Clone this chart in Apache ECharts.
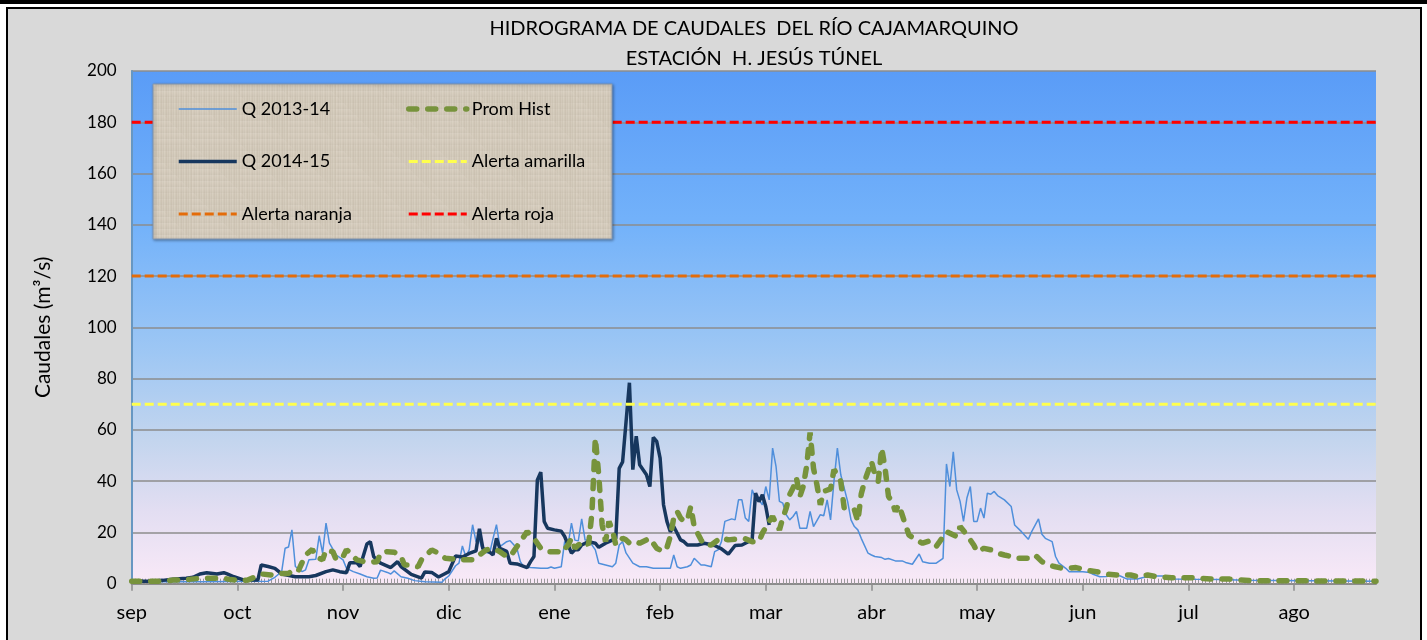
<!DOCTYPE html>
<html>
<head>
<meta charset="utf-8">
<title>Hidrograma de caudales - Río Cajamarquino</title>
<script src="https://cdn.jsdelivr.net/npm/echarts@6/dist/echarts.min.js"></script>
<style>
  html, body { margin: 0; padding: 0; background: #fff; }
  #chart { width: 1427px; height: 640px; }
</style>
</head>
<body>
<div id="chart"></div>
<script>
// month labels every 31 days starting at 1 sep
const months = ['sep', 'oct', 'nov', 'dic', 'ene', 'feb', 'mar', 'abr', 'may', 'jun', 'jul', 'ago'];

// [day since 1 sep, caudal m3/s]
const q1314 = [
  [0, 0.8], [20, 0.8], [30, 0.9], [40, 1.0], [42, 2.5], [44, 4.7], [45, 13.8], [46, 14.3], [47, 21.0],
  [48, 6.7], [50, 4.7], [51, 5.4], [52, 9.3], [54, 9.5], [55, 18.7], [56, 11.9], [57, 23.6], [58, 15.8],
  [60, 11.2], [62, 9.3], [63, 6.0], [65, 4.7], [67, 3.8], [69, 2.7], [71, 2.1], [72, 2.2], [73, 5.3],
  [75, 4.4], [76, 3.8], [77, 5.0], [79, 2.7], [81, 2.1], [83, 1.2], [86, 0.8], [91, 0.6], [92, 2.0],
  [93, 3.0], [95, 7.0], [96, 8.0], [97, 14.7], [98, 10.6], [99, 13.2], [100, 23.0], [101, 16.4], [102, 17.0],
  [103, 12.5], [105, 11.9], [106, 17.7], [107, 23.0], [108, 14.5], [110, 16.4], [111, 16.8], [113, 13.8],
  [114, 8.6], [115, 6.6], [117, 6.3], [120, 6.0], [122, 6.0], [123, 6.5], [124, 6.0], [126, 6.6], [127, 16.4],
  [128, 15.1], [129, 23.6], [130, 17.0], [131, 16.7], [132, 25.3], [133, 17.0], [134, 17.0], [136, 13.2],
  [137, 8.0], [139, 7.3], [141, 6.6], [142, 8.0], [143, 15.1], [144, 16.4], [145, 12.0], [147, 8.0],
  [149, 6.6], [151, 6.6], [153, 6.0], [158, 6.0], [159, 11.2], [160, 6.6], [161, 6.0], [163, 6.6], [164, 7.3],
  [165, 9.9], [167, 7.3], [168, 7.3], [170, 6.6], [171, 12.5], [172, 13.2], [173, 16.4], [174, 24.3],
  [176, 25.3], [177, 24.9], [178, 32.7], [179, 32.7], [180, 25.6], [181, 24.3], [182, 36.6], [183, 33.4],
  [184, 32.7], [185, 30.8], [186, 37.9], [187, 32.7], [188, 52.9], [189, 45.8], [190, 32.1], [191, 31.4],
  [192, 26.9], [193, 24.9], [194, 26.2], [195, 28.2], [196, 21.6], [198, 21.6], [199, 28.2], [200, 22.3],
  [202, 26.9], [203, 26.5], [204, 32.7], [205, 24.9], [206, 39.9], [207, 52.9], [208, 42.5], [210, 32.1],
  [211, 24.9], [212, 22.3], [213, 21.0], [214, 17.7], [216, 11.9], [217, 11.2], [218, 10.6], [220, 10.2],
  [221, 9.5], [222, 9.8], [224, 8.9], [226, 8.9], [227, 8.3], [229, 7.6], [231, 11.6], [232, 8.6], [234, 8.0],
  [236, 8.0], [238, 9.9], [239, 46.7], [240, 37.9], [241, 51.4], [242, 36.6], [243, 32.1], [244, 24.3],
  [245, 33.4], [246, 37.9], [247, 24.3], [248, 24.3], [249, 29.5], [250, 25.6], [251, 35.3], [252, 34.9],
  [253, 36.0], [254, 34.4], [256, 32.7], [258, 30.1], [259, 22.9], [261, 20.3], [263, 17.3], [264, 20.3],
  [266, 25.3], [267, 19.3], [268, 17.7], [270, 16.4], [271, 10.6], [272, 8.0], [274, 6.0], [275, 4.7],
  [279, 4.7], [281, 4.4], [282, 3.7], [284, 2.7], [286, 2.8], [288, 3.4], [290, 3.0], [292, 1.8], [295, 1.8],
  [297, 2.5], [300, 3.0], [303, 3.0], [306, 1.8], [312, 1.7], [320, 1.6], [326, 1.3], [365, 1.0]
];

const q1415 = [
  [0, 1.0], [6, 1.0], [9, 1.3], [12, 1.7], [16, 2.1], [18, 2.5], [20, 3.8], [22, 4.3], [25, 3.8], [27, 4.3],
  [28, 3.8], [30, 2.7], [33, 1.4], [37, 1.4], [38, 7.3], [40, 6.7], [42, 6.0], [44, 3.8], [48, 2.7], [52, 2.7],
  [54, 3.2], [57, 4.7], [59, 5.4], [61, 4.7], [63, 4.3], [64, 8.2], [66, 8.2], [67, 6.7], [69, 15.5], [70, 16.4],
  [71, 10.5], [73, 8.0], [76, 6.3], [78, 8.6], [79, 6.7], [82, 3.6], [85, 2.2], [86, 4.6], [88, 4.4], [90, 2.6],
  [92, 4.0], [93, 4.7], [95, 10.8], [97, 10.4], [99, 11.8], [101, 12.8], [102, 21.4], [103, 13.8], [105, 12.3],
  [106, 11.2], [107, 17.7], [108, 13.8], [110, 12.6], [111, 8.0], [113, 7.7], [116, 6.3], [117, 8.6],
  [118, 10.6], [119, 40.5], [120, 43.5], [121, 24.3], [122, 21.6], [124, 21.0], [126, 20.5], [127, 18.4],
  [129, 11.9], [130, 13.2], [131, 13.2], [132, 15.1], [134, 16.4], [136, 15.8], [137, 14.2], [139, 15.8],
  [140, 16.4], [142, 17.7], [143, 45.0], [144, 47.5], [146, 78.4], [147, 44.5], [148, 57.5], [149, 46.4],
  [151, 42.5], [152, 37.9], [153, 57.1], [154, 55.5], [155, 49.0], [156, 30.8], [157, 24.3], [158, 20.3],
  [159, 22.3], [161, 17.1], [162, 16.4], [163, 15.1], [166, 15.1], [168, 15.8], [171, 14.9], [173, 13.6],
  [175, 11.5], [177, 14.9], [179, 15.1], [180, 15.8], [182, 17.1], [183, 35.3], [184, 32.0], [185, 34.7],
  [186, 30.1], [187, 22.9]
];

const promHist = [
  [0, 1.0], [10, 1.0], [12, 1.4], [16, 1.6], [20, 2.1], [27, 2.1], [29, 1.6], [32, 1.2], [34, 1.4], [36, 2.5],
  [38, 3.8], [41, 3.4], [44, 4.0], [46, 4.0], [48, 6.0], [49, 5.4], [51, 11.2], [53, 13.4], [54, 10.6],
  [56, 9.3], [57, 13.2], [59, 12.5], [60, 9.3], [62, 10.6], [63, 13.2], [64, 12.2], [66, 9.3], [69, 8.3],
  [72, 8.6], [73, 11.9], [75, 12.5], [77, 12.3], [79, 10.6], [80, 7.3], [82, 7.3], [84, 6.6], [85, 9.3],
  [86, 10.6], [88, 13.2], [90, 11.9], [92, 9.9], [95, 9.5], [97, 9.3], [100, 9.3], [102, 11.2], [104, 13.2],
  [106, 13.8], [108, 12.5], [110, 10.6], [111, 10.6], [112, 12.5], [114, 16.4], [116, 20.3], [118, 17.7],
  [120, 13.8], [122, 12.5], [125, 12.5], [126, 11.9], [128, 15.1], [129, 17.7], [130, 13.8], [131, 15.1],
  [133, 16.4], [134, 15.1], [135, 27.5], [136, 56.8], [137, 42.5], [138, 22.9], [139, 16.4], [140, 24.3],
  [141, 21.0], [142, 15.1], [143, 16.4], [144, 17.7], [145, 17.1], [146, 15.8], [148, 16.4], [149, 15.8],
  [151, 17.1], [152, 17.7], [154, 13.8], [156, 12.5], [157, 14.1], [158, 18.4], [159, 25.6], [160, 28.2],
  [161, 25.6], [162, 24.3], [163, 24.8], [164, 30.1], [165, 22.3], [167, 17.1], [168, 15.1], [170, 15.1],
  [172, 17.1], [173, 18.0], [175, 17.1], [178, 17.5], [180, 17.5], [182, 16.4], [184, 16.4], [185, 19.7],
  [187, 24.3], [188, 26.2], [190, 21.0], [191, 25.6], [192, 29.5], [193, 34.7], [194, 37.3], [195, 41.2],
  [196, 34.0], [197, 38.0], [198, 46.0], [199, 59.0], [200, 45.0], [201, 38.6], [202, 30.8], [203, 36.0],
  [205, 37.0], [206, 44.5], [207, 42.5], [208, 39.9], [209, 29.5], [211, 28.8], [212, 28.8], [213, 24.3],
  [214, 35.0], [215, 40.0], [216, 43.8], [217, 47.7], [218, 42.5], [219, 39.9], [220, 52.9], [221, 45.0],
  [222, 34.0], [223, 32.1], [224, 28.2], [225, 30.8], [226, 26.9], [227, 22.9], [228, 19.0], [230, 17.1],
  [232, 15.8], [234, 16.7], [236, 14.5], [237, 16.4], [239, 20.3], [240, 19.7], [242, 18.4], [243, 22.3],
  [245, 19.0], [247, 15.1], [248, 12.5], [250, 13.8], [252, 13.2], [254, 11.9], [256, 11.2], [258, 10.6],
  [260, 9.9], [263, 9.9], [265, 11.2], [267, 8.6], [269, 7.3], [271, 6.6], [273, 6.0], [275, 6.0], [277, 6.3],
  [280, 5.3], [283, 4.7], [286, 3.7], [289, 3.4], [293, 3.4], [295, 2.7], [298, 3.4], [300, 2.9], [305, 2.3],
  [311, 2.3], [317, 1.8], [322, 1.8], [328, 1.2], [365, 1.0]
];

const alertaAmarilla = 70;
const alertaNaranja = 120;
const alertaRoja = 180;
const lastDay = 365;

const font = 'Lato, "Open Sans", sans-serif';

const styles = {
  'Q 2013-14': { color: '#4f8fdb', width: 1.5, type: 'solid' },
  'Q 2014-15': { color: '#17375e', width: 3.5, type: 'solid' },
  'Prom Hist': { color: '#77933c', width: 5.5, type: [8, 11], cap: 'round' },
  'Alerta amarilla': { color: '#ffff4d', width: 3, type: [9, 4] },
  'Alerta naranja': { color: '#e46c0a', width: 3, type: [9, 4] },
  'Alerta roja': { color: '#ff0000', width: 3, type: [9, 4] }
};

// linen-ish texture for the legend box (deterministic pattern)
function makeLinen() {
  const c = document.createElement('canvas');
  c.width = 48; c.height = 48;
  const g = c.getContext('2d');
  g.fillStyle = '#d8cfc0';
  g.fillRect(0, 0, 48, 48);
  for (let i = 0; i < 48; i++) {
    const a = ((i * 7) % 5) / 5;
    g.fillStyle = 'rgba(150,138,118,' + (0.08 + a * 0.18) + ')';
    g.fillRect(i, 0, 1, 48);
    const b = ((i * 11) % 6) / 6;
    g.fillStyle = 'rgba(245,240,230,' + (0.05 + b * 0.2) + ')';
    g.fillRect(0, i, 48, 1);
  }
  return c;
}

function flat(v) {
  return [[0, v], [lastDay, v]];
}

function legendItem(name) {
  const s = styles[name];
  return {
    name: name,
    itemStyle: { opacity: 0 },
    lineStyle: { color: s.color, width: s.width, type: s.type, cap: s.cap || 'butt', opacity: 1 }
  };
}

function lineSeries(name, data) {
  const s = styles[name];
  return {
    name: name, type: 'line', data: data, symbol: 'none', z: 2,
    lineStyle: { color: s.color, width: s.width, type: s.type, cap: s.cap || 'butt' },
    itemStyle: { color: s.color }
  };
}

const legendBase = {
  orient: 'vertical', top: 100, padding: 0, itemGap: 34.5, itemWidth: 58, itemHeight: 14,
  textStyle: { fontFamily: font, fontSize: 18, color: '#000' }
};

const chart = echarts.init(document.getElementById('chart'));

chart.setOption({
  backgroundColor: '#ffffff',
  animation: false,
  title: {
    text: 'HIDROGRAMA DE CAUDALES  DEL RÍO CAJAMARQUINO',
    subtext: 'ESTACIÓN  H. JESÚS TÚNEL',
    left: 749,
    textAlign: 'center',
    top: 14,
    itemGap: 10,
    textStyle: { fontFamily: font, fontSize: 20, fontWeight: 'normal', color: '#000' },
    subtextStyle: { fontFamily: font, fontSize: 20, color: '#000' }
  },
  graphic: [
    { type: 'rect', z: -20, silent: true, shape: { x: 0, y: 0, width: 1427, height: 640 }, style: { fill: '#ffffff' } },
    { type: 'rect', z: -19, silent: true, shape: { x: 0, y: 0, width: 1427, height: 4 }, style: { fill: '#000' } },
    { type: 'rect', z: -18, silent: true, shape: { x: 7, y: 8, width: 1414, height: 640 }, style: { fill: '#d9d9d9', stroke: '#000', lineWidth: 2 } },
    {
      type: 'rect', z: 3, silent: true,
      shape: { x: 153, y: 84, width: 459, height: 155 },
      style: { fill: { image: makeLinen(), repeat: 'repeat' }, stroke: '#8497b0', lineWidth: 1, shadowBlur: 3, shadowColor: 'rgba(0,0,0,0.35)', shadowOffsetX: 1, shadowOffsetY: 1 }
    }
  ],
  legend: [
    Object.assign({}, legendBase, { left: 177, data: ['Q 2013-14', 'Q 2014-15', 'Alerta naranja'].map(legendItem) }),
    Object.assign({}, legendBase, { left: 406, data: ['Prom Hist', 'Alerta amarilla', 'Alerta roja'].map(legendItem) })
  ],
  grid: {
    left: 131.7, right: 51, top: 71, bottom: 56.3,
    show: true,
    borderWidth: 0,
    backgroundColor: {
      type: 'linear', x: 0, y: 0, x2: 0, y2: 1,
      colorStops: [
        { offset: 0, color: '#5a9cf7' },
        { offset: 0.3, color: '#73b2fa' },
        { offset: 0.55, color: '#9ec7f4' },
        { offset: 0.72, color: '#c3d5ee' },
        { offset: 0.86, color: '#e3def2' },
        { offset: 1, color: '#f9e9f7' }
      ]
    }
  },
  xAxis: [
    {
      type: 'value', min: 0, max: lastDay, interval: 31, position: 'bottom',
      axisLine: { show: true, onZero: false, lineStyle: { color: '#8c8c8c', width: 2 } },
      axisTick: { show: true, length: 7, lineStyle: { color: '#8c8c8c', width: 1.5 } },
      splitLine: { show: false },
      axisLabel: {
        fontFamily: font, fontSize: 20, color: '#000', margin: 19,
        showMaxLabel: false,
        formatter: v => months[v / 31] || ''
      }
    },
    {
      type: 'value', min: 0, max: lastDay, interval: 1, position: 'bottom',
      axisLine: { show: false, onZero: false },
      axisTick: { show: true, inside: true, length: 5, lineStyle: { color: '#9a9a9a', width: 1 } },
      splitLine: { show: false },
      axisLabel: { show: false }
    }
  ],
  yAxis: [
    {
      type: 'value', min: 0, max: 200, interval: 20, position: 'left',
      name: 'Caudales (m³/s)',
      nameLocation: 'middle',
      nameRotate: 90,
      nameGap: 78,
      nameTextStyle: { fontFamily: font, fontSize: 21, color: '#000' },
      axisLine: { show: true, lineStyle: { color: '#8c8c8c', width: 2 } },
      axisTick: { show: false },
      splitLine: { show: true, lineStyle: { color: '#8c8c8c', width: 1.5 } },
      axisLabel: { fontFamily: font, fontSize: 17, color: '#000', margin: 15 }
    },
    {
      type: 'value', min: 0, max: 200, position: 'right',
      axisLine: { show: true, lineStyle: { color: '#5b9bd5', width: 1.5 } },
      axisTick: { show: false },
      axisLabel: { show: false },
      splitLine: { show: false }
    }
  ],
  series: [
    lineSeries('Q 2013-14', q1314),
    lineSeries('Q 2014-15', q1415),
    lineSeries('Prom Hist', promHist),
    lineSeries('Alerta amarilla', flat(alertaAmarilla)),
    lineSeries('Alerta naranja', flat(alertaNaranja)),
    lineSeries('Alerta roja', flat(alertaRoja))
  ]
});
</script>
</body>
</html>
